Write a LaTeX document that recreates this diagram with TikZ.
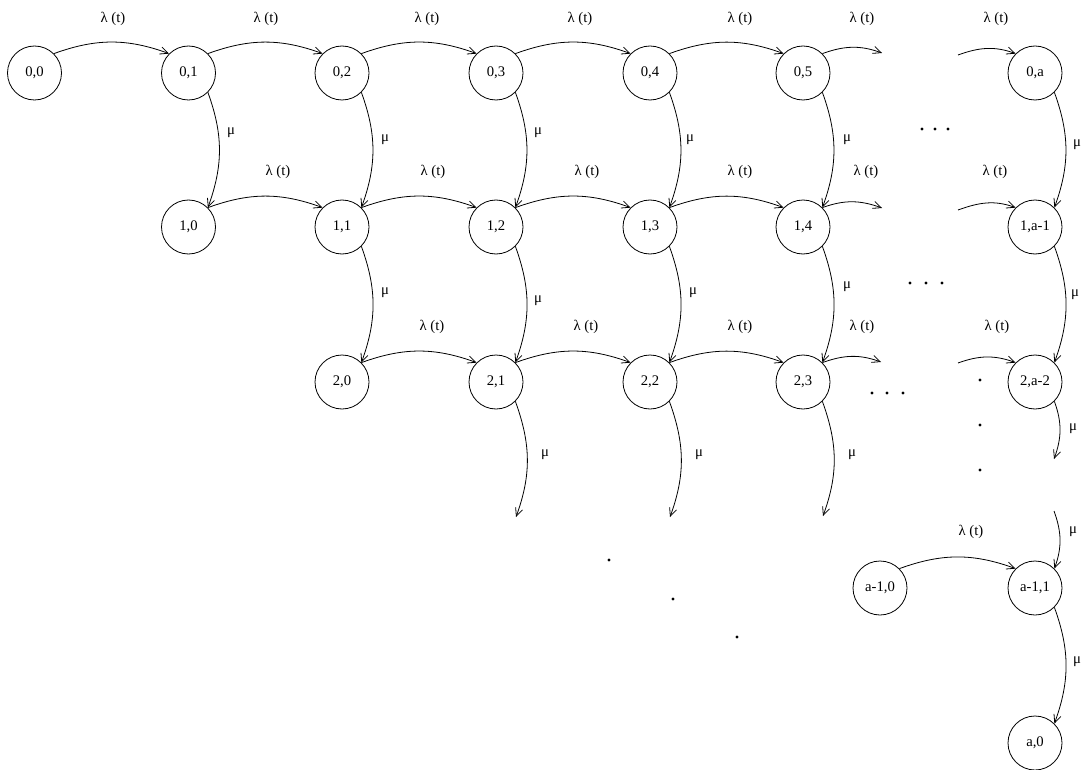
\documentclass[tikz,border=0pt]{standalone}
\usepackage{fontspec}
\setmainfont{Liberation Serif}
\usetikzlibrary{arrows.meta}
\begin{document}
\begin{tikzpicture}[x=0.75pt,y=-0.75pt,
  st/.style={circle,draw,line width=0.6pt,minimum size=40.5pt,inner sep=0pt,font=\fontsize{11pt}{13pt}\selectfont},
  lbl/.style={inner sep=0pt,font=\fontsize{11pt}{13pt}\selectfont},
  arr/.style={line width=0.6pt,-{Straight Barb[length=6pt,width=5.5pt]}},
  hb/.style={arr,out=20,in=160},
  vb/.style={arr,out=-70,in=70}]
\useasboundingbox (0,0) rectangle (1085,770);
% states
\node[st] (n00) at (34.5,73) {0,0};
\node[st] (n01) at (188.5,73) {0,1};
\node[st] (n02) at (342,73) {0,2};
\node[st] (n03) at (496,73) {0,3};
\node[st] (n04) at (650,73) {0,4};
\node[st] (n05) at (803,73) {0,5};
\node[st] (n0a) at (1035,73) {0,a};
\node[st] (n10) at (188.5,227) {1,0};
\node[st] (n11) at (342,227) {1,1};
\node[st] (n12) at (496,227) {1,2};
\node[st] (n13) at (650,227) {1,3};
\node[st] (n14) at (803,227) {1,4};
\node[st] (n1a) at (1035,227) {1,a-1};
\node[st] (n20) at (342,382) {2,0};
\node[st] (n21) at (496,382) {2,1};
\node[st] (n22) at (650,382) {2,2};
\node[st] (n23) at (803,382) {2,3};
\node[st] (n2a) at (1035,382) {2,a-2};
\node[st] (nA0) at (880,588) {a-1,0};
\node[st] (nA1) at (1035,588) {a-1,1};
\node[st] (nB0) at (1035,743) {a,0};
% free ends
\coordinate (s0r) at (882,53);
\coordinate (s0l) at (958,55);
\coordinate (s1r) at (882,208);
\coordinate (s1l) at (958,210);
\coordinate (s2r) at (881,362);
\coordinate (s2l) at (958,363);
\coordinate (d21) at (516,517);
\coordinate (d22) at (670,517);
\coordinate (d23) at (823,516);
\coordinate (d2a) at (1054,459);
\coordinate (uA1) at (1054,511);
% row 0
\draw[hb] (n00.45) to (n01.135);
\draw[hb] (n01.45) to (n02.135);
\draw[hb] (n02.45) to (n03.135);
\draw[hb] (n03.45) to (n04.135);
\draw[hb] (n04.45) to (n05.135);
\draw[hb] (n05.45) to (s0r);
\draw[hb] (s0l) to (n0a.135);
% row 1
\draw[hb] (n10.45) to (n11.135);
\draw[hb] (n11.45) to (n12.135);
\draw[hb] (n12.45) to (n13.135);
\draw[hb] (n13.45) to (n14.135);
\draw[hb] (n14.45) to (s1r);
\draw[hb] (s1l) to (n1a.135);
% row 2
\draw[hb] (n20.45) to (n21.135);
\draw[hb] (n21.45) to (n22.135);
\draw[hb] (n22.45) to (n23.135);
\draw[hb] (n23.45) to (s2r);
\draw[hb] (s2l) to (n2a.135);
% row a-1
\draw[hb] (nA0.45) to (nA1.135);
% vertical
\draw[vb] (n01.-45) to (n10.45);
\draw[vb] (n02.-45) to (n11.45);
\draw[vb] (n03.-45) to (n12.45);
\draw[vb] (n04.-45) to (n13.45);
\draw[vb] (n05.-45) to (n14.45);
\draw[vb] (n0a.-45) to (n1a.45);
\draw[vb] (n11.-45) to (n20.45);
\draw[vb] (n12.-45) to (n21.45);
\draw[vb] (n13.-45) to (n22.45);
\draw[vb] (n14.-45) to (n23.45);
\draw[vb] (n1a.-45) to (n2a.45);
\draw[vb] (n21.-45) to (d21);
\draw[vb] (n22.-45) to (d22);
\draw[vb] (n23.-45) to (d23);
\draw[vb] (n2a.-45) to (d2a);
\draw[vb] (uA1) to (nA1.45);
\draw[vb] (nA1.-45) to (nB0.45);
% lambda labels
\node[lbl] (l01) at (113,19) {λ (t)};
\node[lbl] (l02) at (266,19) {λ (t)};
\node[lbl] (l03) at (427,19) {λ (t)};
\node[lbl] (l04) at (580,19) {λ (t)};
\node[lbl] (l05) at (740,19) {λ (t)};
\node[lbl] (l06) at (862,19) {λ (t)};
\node[lbl] (l07) at (996,19) {λ (t)};
\node[lbl] (l11) at (278,172) {λ (t)};
\node[lbl] (l12) at (433,172) {λ (t)};
\node[lbl] (l13) at (587,172) {λ (t)};
\node[lbl] (l14) at (740,172) {λ (t)};
\node[lbl] (l15) at (866,172) {λ (t)};
\node[lbl] (l16) at (995,172) {λ (t)};
\node[lbl] (l21) at (432,327) {λ (t)};
\node[lbl] (l22) at (586,327) {λ (t)};
\node[lbl] (l23) at (740,327) {λ (t)};
\node[lbl] (l24) at (862,327) {λ (t)};
\node[lbl] (l25) at (997,327) {λ (t)};
\node[lbl] (lA1) at (971,532) {λ (t)};
% mu labels
\node[lbl] (m01) at (231,133) {μ};
\node[lbl] (m02) at (385,140) {μ};
\node[lbl] (m03) at (538,133) {μ};
\node[lbl] (m04) at (690,140) {μ};
\node[lbl] (m05) at (847,140) {μ};
\node[lbl] (m0a) at (1077,145) {μ};
\node[lbl] (m11) at (385,293) {μ};
\node[lbl] (m12) at (538,301) {μ};
\node[lbl] (m13) at (693,293) {μ};
\node[lbl] (m14) at (847,287) {μ};
\node[lbl] (m1a) at (1075,295) {μ};
\node[lbl] (m21) at (545,455) {μ};
\node[lbl] (m22) at (699,455) {μ};
\node[lbl] (m23) at (852,455) {μ};
\node[lbl] (m2a) at (1073,429) {μ};
\node[lbl] (mA1) at (1073,532) {μ};
\node[lbl] (mB0) at (1077,662) {μ};
% ellipsis dots
\foreach \x/\y in {922/129,935/129,948/129, 910/283,926/283,942/283,
  872/393,887/393,903/393, 980/380,980/425,980/470,
  609/560,673/599,737/637}
  \fill (\x,\y) circle (1.7);
\end{tikzpicture}
\end{document}
